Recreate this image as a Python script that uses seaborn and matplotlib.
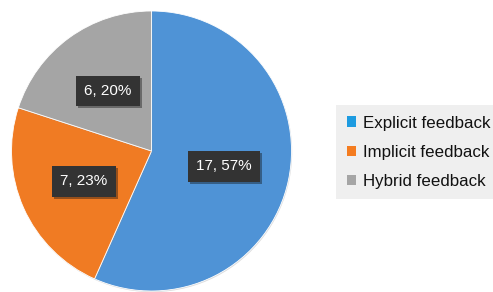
import matplotlib
matplotlib.use("Agg")
import matplotlib.pyplot as plt
import matplotlib.patches as mpatches
import matplotlib.patheffects as pe
import seaborn as sns

categories = ["Explicit feedback", "Implicit feedback", "Hybrid feedback"]
counts = [17, 7, 6]
pct_labels = ["17, 57%", "7, 23%", "6, 20%"]

slice_colors = ["#4f93d6", "#f07b23", "#a5a5a5"]
legend_colors = ["#1d9be0", "#f47c20", "#a5a5a5"]

sns.set_theme(style="white")
plt.rcParams["font.family"] = ["Liberation Sans", "DejaVu Sans"]

fig = plt.figure(figsize=(4.93, 2.92), dpi=100)
fig.patch.set_facecolor("white")
ax = fig.add_axes([11.5 / 493, 1 / 292, 280 / 493, 280 / 292])

wedges, texts = ax.pie(counts, colors=slice_colors, startangle=90, counterclock=False,
                       radius=1.0, labels=pct_labels, labeldistance=0.53,
                       wedgeprops=dict(linewidth=0.6, edgecolor="white"),
                       textprops=dict(color="white", fontsize=11, ha="center", va="center"))
for w in wedges:
    w.set_path_effects([pe.SimplePatchShadow(offset=(0.5, -0.8), shadow_rgbFace="#999999", alpha=0.35), pe.Normal()])
for t in texts:
    t.set_ha("center")
    t.set_va("center")
    t.set_bbox(dict(boxstyle="square,pad=0.55", facecolor="#333333", edgecolor="none"))
    t.get_bbox_patch().set_path_effects([pe.SimplePatchShadow(offset=(1.5, -1.5), alpha=0.4), pe.Normal()])
ax.set_xlim(-1.0, 1.0)
ax.set_ylim(-1.0, 1.0)
ax.set_aspect("equal")
ax.axis("off")

handles = [mpatches.Patch(facecolor=c, edgecolor="none", label=l) for c, l in zip(legend_colors, categories)]
leg = fig.legend(handles=handles, loc="upper left", bbox_to_anchor=(336 / 493, 1 - 105 / 292),
                 fontsize=12.2, frameon=True, fancybox=False, handlelength=0.55, handleheight=0.55,
                 handletextpad=0.4, labelspacing=0.84, borderpad=0.62, borderaxespad=0)
leg.get_frame().set_facecolor("#ececec")
leg.get_frame().set_edgecolor("none")
for txt in leg.get_texts():
    txt.set_color("#111111")

fig.savefig("out.png", dpi=100)
